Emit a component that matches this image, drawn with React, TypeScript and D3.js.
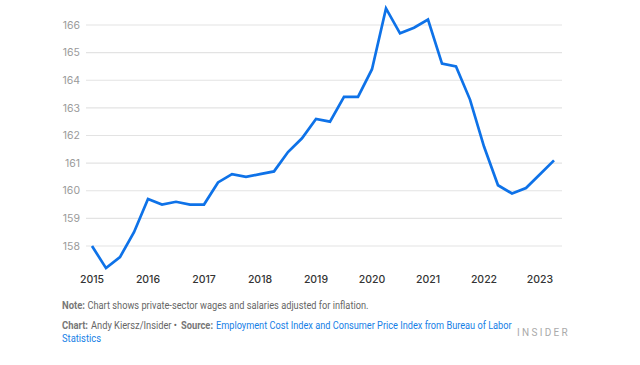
import React, { useLayoutEffect, useRef, useState } from "react";
import * as d3 from "d3";

const quarters: number[] = [
  2015, 2015.25, 2015.5, 2015.75,
  2016, 2016.25, 2016.5, 2016.75,
  2017, 2017.25, 2017.5, 2017.75,
  2018, 2018.25, 2018.5, 2018.75,
  2019, 2019.25, 2019.5, 2019.75,
  2020, 2020.25, 2020.5, 2020.75,
  2021, 2021.25, 2021.5, 2021.75,
  2022, 2022.25, 2022.5, 2022.75,
  2023, 2023.25,
];
const values: number[] = [
  158.0, 157.2, 157.6, 158.5,
  159.7, 159.5, 159.6, 159.5,
  159.5, 160.3, 160.6, 160.5,
  160.6, 160.7, 161.4, 161.9,
  162.6, 162.5, 163.4, 163.4,
  164.4, 166.6, 165.7, 165.9,
  166.2, 164.6, 164.5, 163.3,
  161.6, 160.2, 159.9, 160.1,
  160.6, 161.1,
];
const yTicks: number[] = [158, 159, 160, 161, 162, 163, 164, 165, 166];
const xTicks: number[] = [2015, 2016, 2017, 2018, 2019, 2020, 2021, 2022, 2023];

const W = 640;
const H = 365;

type Seg = { t: string; x: number; w: number; y: number; bold?: boolean; fill: string };

const segs: Seg[] = [
  { t: "Note:", x: 62, w: 23, y: 309, bold: true, fill: "#777" },
  { t: "Chart shows private-sector wages and salaries adjusted for inflation.", x: 87.5, w: 281, y: 309, fill: "#666" },
  { t: "Chart:", x: 62, w: 26, y: 328.5, bold: true, fill: "#777" },
  { t: "Andy Kiersz/Insider •", x: 91, w: 86, y: 328.5, fill: "#666" },
  { t: "Source:", x: 181, w: 32, y: 328.5, bold: true, fill: "#777" },
  { t: "Employment Cost Index and Consumer Price Index from Bureau of Labor", x: 216, w: 296, y: 328.5, fill: "#1680e6" },
  { t: "Statistics", x: 62, w: 39, y: 341.5, fill: "#1680e6" },
];

function FootText({ s }: { s: Seg }) {
  const ref = useRef<SVGTextElement>(null);
  const [k, setK] = useState(1);
  useLayoutEffect(() => {
    if (ref.current) {
      const n = ref.current.getComputedTextLength();
      if (n > 0) setK(s.w / n);
    }
  }, [s]);
  return (
    <text
      ref={ref}
      transform={`translate(${s.x},${s.y}) scale(${k},1)`}
      fill={s.fill}
      fontWeight={s.bold ? "bold" : "normal"}
    >
      {s.t}
    </text>
  );
}

export default function App() {
  const x = d3.scaleLinear().domain([2015, 2023]).range([92, 540]);
  const y = d3.scaleLinear().domain([158, 166]).range([246, 25]);
  const line = d3
    .line<number>()
    .x((_, i) => x(quarters[i]))
    .y((d) => y(d));
  const foot = "Roboto, 'Liberation Sans', sans-serif";
  return (
    <svg
      width={W}
      height={H}
      style={{ position: "absolute", left: 0, top: 0, background: "#fff" }}
    >
      <g>
        {yTicks.map((t) => (
          <g key={t}>
            <line x1={86} x2={562} y1={y(t)} y2={y(t)} stroke="#e3e3e3" strokeWidth={1.2} />
            <text
              x={80}
              y={y(t)}
              dy="0.35em"
              textAnchor="end"
              fontFamily="Inter, Roboto, sans-serif"
              fontSize={10.5}
              fill="#9a9a9a"
            >
              {t}
            </text>
          </g>
        ))}
        {xTicks.map((t) => (
          <text
            key={t}
            x={x(t)}
            y={279}
            dy="0.35em"
            textAnchor="middle"
            fontFamily="Inter, Roboto, sans-serif"
            fontSize={10.5}
            fontWeight={500}
            fill="#333"
          >
            {t}
          </text>
        ))}
      </g>
      <path
        d={line(values) || ""}
        fill="none"
        stroke="#0e72e8"
        strokeWidth={2.7}
        strokeLinejoin="miter"
      />
      <g fontFamily={foot} fontSize={10.8}>
        {segs.map((s, i) => (
          <FootText key={i} s={s} />
        ))}
      </g>
      <text
        x={517}
        y={336}
        fontFamily="Roboto, 'Liberation Sans', sans-serif"
        fontSize={10}
        letterSpacing={2.3}
        fill="#aaa"
      >
        INSIDER
      </text>
    </svg>
  );
}
